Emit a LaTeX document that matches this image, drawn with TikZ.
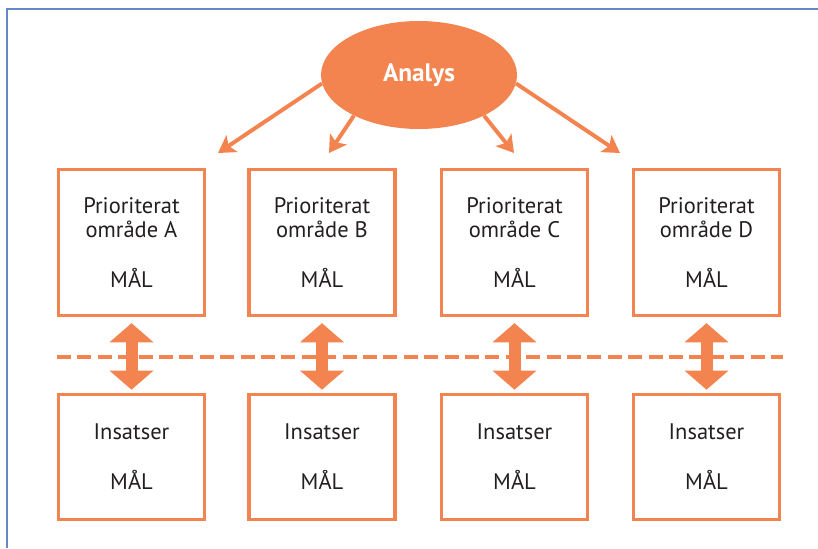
\documentclass[tikz,border=0pt]{standalone}
\usepackage{fontspec}
\setmainfont{PT Sans}
\usetikzlibrary{shapes.geometric, arrows.meta}
\definecolor{malorange}{RGB}{243,132,80}
\definecolor{ramblue}{RGB}{96,138,200}
\definecolor{textgray}{RGB}{35,31,32}
\tikzset{
  block/.style={
    rectangle,
    draw=malorange,
    line width=2.4pt,
    fill=white,
    minimum width=3.65cm,
    text=textgray,
    align=center,
    font=\fontsize{16}{17.7}\selectfont
  }
}
\tikzset{
  analysblock/.style={
    ellipse,
    fill=malorange,
    minimum width=4.9cm,
    minimum height=2.7cm,
    inner sep=0pt,
    text=white,
    font=\fontsize{18}{20}\selectfont\bfseries
  }
}
\tikzstyle{arrow} = [-{Stealth[length=0.42cm, width=0.5cm, inset=0.1cm]}, draw=malorange, line width=2.8pt]
\tikzstyle{twoway} = [{Triangle[length=0.48cm, width=1.08cm]}-{Triangle[length=0.48cm, width=1.08cm]}, draw=malorange, line width=0.3cm]
\def\omr#1{Prioriterat\\område #1\\[0.625cm]MÅL}

\begin{document}
\begin{tikzpicture}
    \useasboundingbox (0,0) rectangle (20.45,13.7);
    \coordinate (fb) at (0.175, 0);
    \coordinate (fr) at (20.45, 13.475);
    \draw[ramblue, line width=1.4pt] (fb) |- (fr);
    \node[analysblock] (a0) at (10.475, 11.825) {Analys};
    \node[block, minimum height=3.65cm] (p1) at (3.2875, 7.6375) {\omr{A}};
    \node[block, minimum height=3.65cm] (p2) at (8.05, 7.6375) {\omr{B}};
    \node[block, minimum height=3.65cm] (p3) at (12.8625, 7.6375) {\omr{C}};
    \node[block, minimum height=3.65cm] (p4) at (17.6625, 7.6375) {\omr{D}};
    \node[block, minimum height=3.12cm] (i1) at (3.2875, 2.275) {Insatser\\[0.625cm]MÅL};
    \node[block, minimum height=3.12cm] (i2) at (8.05, 2.275) {Insatser\\[0.625cm]MÅL};
    \node[block, minimum height=3.12cm] (i3) at (12.8625, 2.275) {Insatser\\[0.625cm]MÅL};
    \node[block, minimum height=3.12cm] (i4) at (17.6625, 2.275) {Insatser\\[0.625cm]MÅL};
    \coordinate (t1) at (5.45, 9.875);
    \coordinate (t2) at (8.225, 9.875);
    \coordinate (t3) at (12.85, 9.875);
    \coordinate (t4) at (15.5, 9.875);
    \draw[arrow] (a0.185) -- (t1);
    \draw[arrow] (a0.212) -- (t2);
    \draw[arrow] (a0.328) -- (t3);
    \draw[arrow] (a0.355) -- (t4);
    \coordinate (dl) at (1.425, 4.775);
    \coordinate (dr) at (19.575, 4.775);
    \draw[malorange, line width=0.1cm, dash pattern=on 0.35cm off 0.16cm] (dl) -- (dr);
    \draw[twoway, shorten <=0.15cm, shorten >=0.08cm] (p1) -- (i1);
    \draw[twoway, shorten <=0.15cm, shorten >=0.08cm] (p2) -- (i2);
    \draw[twoway, shorten <=0.15cm, shorten >=0.08cm] (p3) -- (i3);
    \draw[twoway, shorten <=0.15cm, shorten >=0.08cm] (p4) -- (i4);
\end{tikzpicture}
\end{document}
